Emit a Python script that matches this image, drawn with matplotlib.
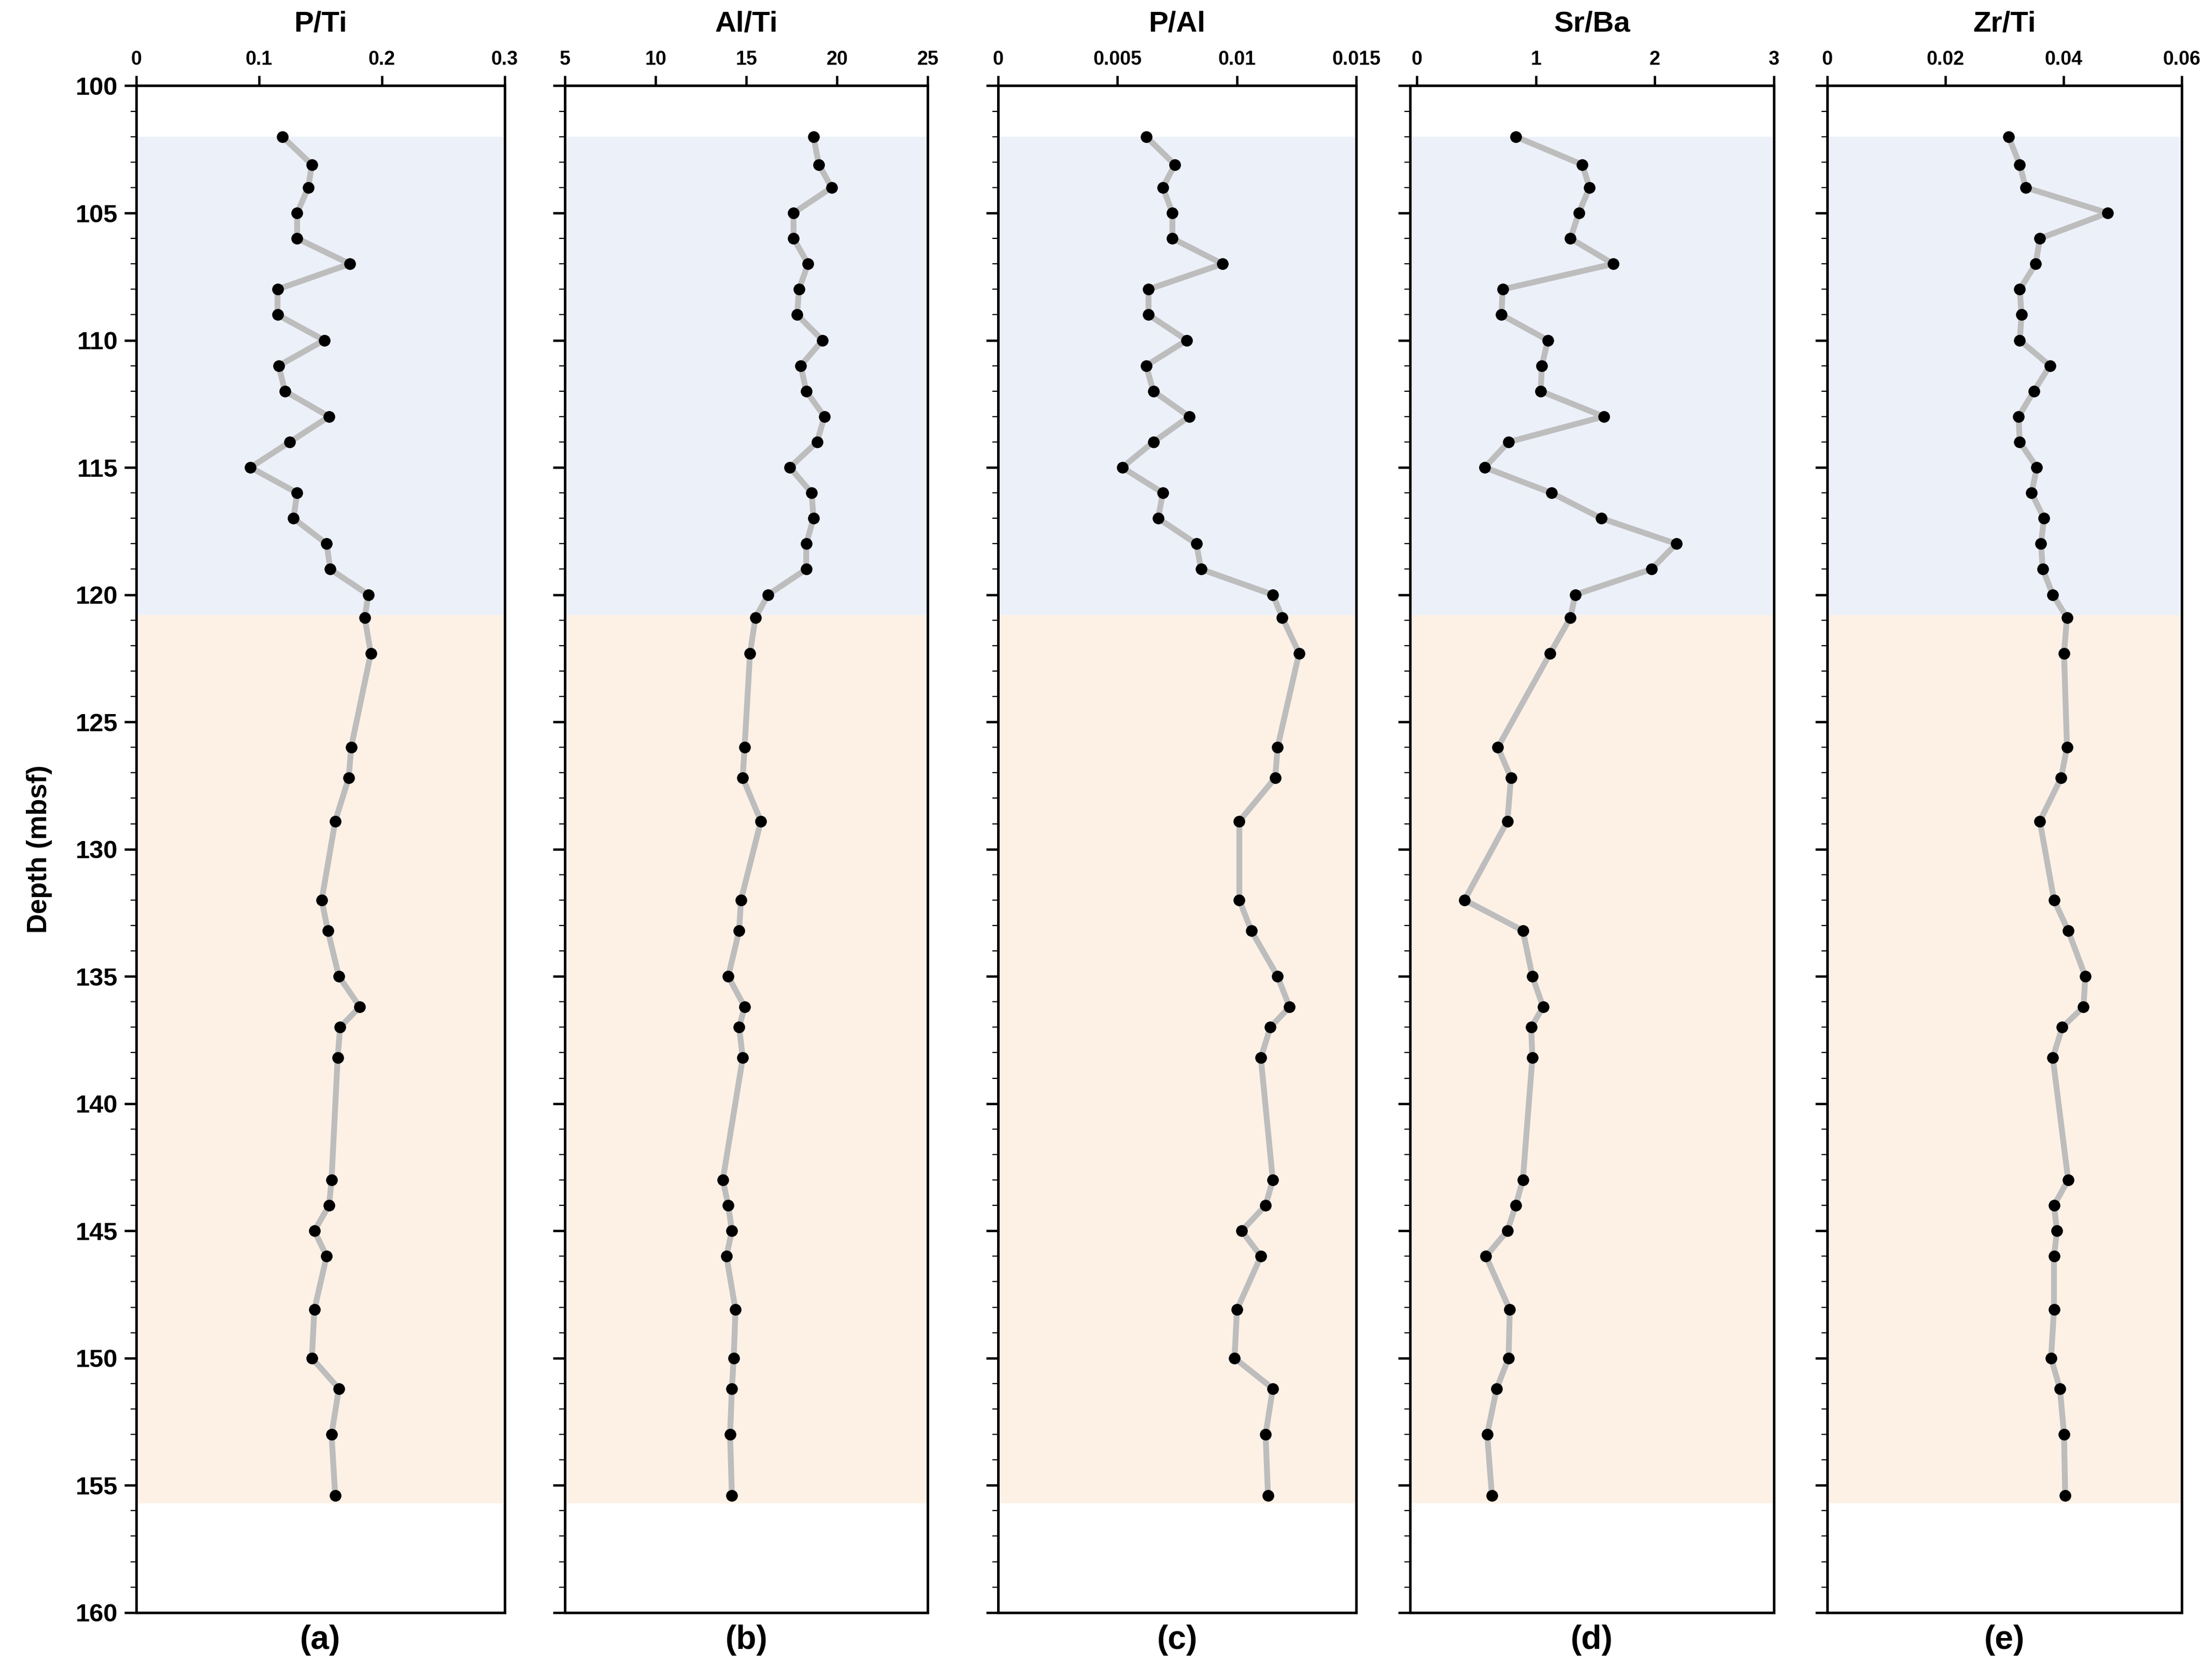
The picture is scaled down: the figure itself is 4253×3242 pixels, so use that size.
import matplotlib.pyplot as plt
from matplotlib.ticker import MultipleLocator

plt.rcParams['font.family'] = 'Liberation Sans'
plt.rcParams['font.weight'] = 'bold'

depth = [102, 103.1, 104, 105, 106, 107, 108, 109, 110, 111, 112, 113, 114, 115, 116, 117, 118, 119, 120,
         120.9, 122.3, 126, 127.2, 128.9, 132, 133.2, 135, 136.2, 137, 138.2, 143, 144, 145, 146, 148.1,
         150, 151.2, 153, 155.4]

p_ti = [0.119, 0.143, 0.140, 0.131, 0.131, 0.174, 0.115, 0.115, 0.153, 0.116, 0.121, 0.157, 0.125, 0.093,
        0.131, 0.128, 0.155, 0.158, 0.189, 0.186, 0.191, 0.175, 0.173, 0.162, 0.151, 0.156, 0.165, 0.182,
        0.166, 0.164, 0.159, 0.157, 0.145, 0.155, 0.145, 0.143, 0.165, 0.159, 0.162]
al_ti = [18.7, 19.0, 19.7, 17.6, 17.6, 18.4, 17.9, 17.8, 19.2, 18.0, 18.3, 19.3, 18.9, 17.4, 18.6, 18.7,
         18.3, 18.3, 16.2, 15.5, 15.2, 14.9, 14.8, 15.8, 14.7, 14.6, 14.0, 14.9, 14.6, 14.8, 13.7, 14.0,
         14.2, 13.9, 14.4, 14.3, 14.2, 14.1, 14.2]
p_al = [0.0062, 0.0074, 0.0069, 0.0073, 0.0073, 0.0094, 0.0063, 0.0063, 0.0079, 0.0062, 0.0065, 0.0080,
        0.0065, 0.0052, 0.0069, 0.0067, 0.0083, 0.0085, 0.0115, 0.0119, 0.0126, 0.0117, 0.0116, 0.0101,
        0.0101, 0.0106, 0.0117, 0.0122, 0.0114, 0.0110, 0.0115, 0.0112, 0.0102, 0.0110, 0.0100, 0.0099,
        0.0115, 0.0112, 0.0113]
sr_ba = [0.83, 1.39, 1.45, 1.36, 1.29, 1.65, 0.72, 0.71, 1.10, 1.05, 1.04, 1.57, 0.77, 0.57, 1.13, 1.55,
         2.18, 1.97, 1.33, 1.29, 1.12, 0.68, 0.79, 0.76, 0.40, 0.89, 0.97, 1.06, 0.96, 0.97, 0.89, 0.83,
         0.76, 0.58, 0.78, 0.77, 0.67, 0.59, 0.63]
zr_ti = [0.0307, 0.0326, 0.0336, 0.0475, 0.0360, 0.0353, 0.0326, 0.0329, 0.0326, 0.0377, 0.0350, 0.0324,
         0.0326, 0.0355, 0.0346, 0.0367, 0.0362, 0.0365, 0.0382, 0.0406, 0.0401, 0.0406, 0.0396, 0.0360,
         0.0384, 0.0408, 0.0437, 0.0434, 0.0398, 0.0382, 0.0408, 0.0384, 0.0389, 0.0384, 0.0384, 0.0379,
         0.0394, 0.0401, 0.0403]

titles = ['P/Ti', 'Al/Ti', 'P/Al', 'Sr/Ba', 'Zr/Ti']
letters = ['(a)', '(b)', '(c)', '(d)', '(e)']
series = [p_ti, al_ti, p_al, sr_ba, zr_ti]
xticks = [[0, 0.1, 0.2, 0.3], [5, 10, 15, 20, 25], [0, 0.005, 0.01, 0.015], [0, 1, 2, 3],
          [0, 0.02, 0.04, 0.06]]
xlabels = [['0', '0.1', '0.2', '0.3'], ['5', '10', '15', '20', '25'], ['0', '0.005', '0.01', '0.015'],
           ['0', '1', '2', '3'], ['0', '0.02', '0.04', '0.06']]
lefts = [97, 402, 710, 1003, 1300]
rights = [359, 660, 965, 1262, 1552]

fig = plt.figure(figsize=(4253 / 271, 3242 / 271), dpi=271)
W, H = 1568, 1195
bottom = 1 - 1147 / H
top = 1 - 61 / H

for i in range(5):
    ax = fig.add_axes([lefts[i] / W, bottom, (rights[i] - lefts[i]) / W, top - bottom])
    lo, hi = xticks[i][0], xticks[i][-1]
    if i == 3:
        lo = -0.06
    ax.axhspan(102, 120.8, color='#ECF0F9', lw=0)
    ax.axhspan(120.8, 155.7, color='#FDF1E6', lw=0)
    ax.plot(series[i], depth, color='#BDBDBD', lw=3, zorder=2)
    ax.plot(series[i], depth, 'o', color='black', ms=5, zorder=3)
    ax.set_xlim(lo, hi)
    ax.set_ylim(160, 100)
    ax.xaxis.tick_top()
    ax.set_xticks(xticks[i])
    ax.set_xticklabels(xlabels[i], fontsize=10, fontweight='bold')
    ax.set_yticks(range(100, 161, 5))
    ax.yaxis.set_minor_locator(MultipleLocator(1))
    ax.tick_params(axis='y', which='major', length=6, width=1.2, labelsize=13)
    ax.tick_params(axis='y', which='minor', length=3)
    ax.tick_params(axis='x', length=5, width=1.2)
    if i == 0:
        ax.set_ylabel('Depth (mbsf)', fontsize=14, fontweight='bold', labelpad=12)
        for t in ax.get_yticklabels():
            t.set_fontweight('bold')
    else:
        ax.set_yticklabels([])
    for s in ax.spines.values():
        s.set_linewidth(1.3)
    ax.set_title(titles[i], fontsize=15, fontweight='bold', pad=28)
    ax.text(0.5, -0.008, letters[i], transform=ax.transAxes, ha='center', va='top', fontsize=17,
            fontweight='bold')

fig.savefig('out.png', dpi=271)
